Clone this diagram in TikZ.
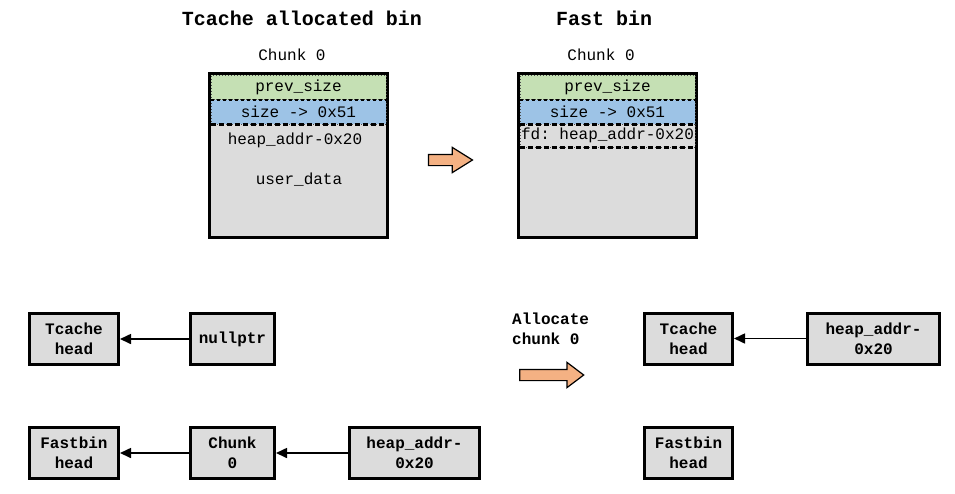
\documentclass[tikz,border=0pt]{standalone}
\usepackage{fontspec}
\setmonofont{Liberation Mono}
\usetikzlibrary{positioning, shapes.arrows, arrows.meta}
\definecolor{chunkgray}{HTML}{DCDCDC}
\definecolor{prevgreen}{HTML}{C5E0B4}
\definecolor{sizeblue}{HTML}{9DC3E6}
\definecolor{stepor}{HTML}{F4B183}
\newcommand\titlefnt{\ttfamily\bfseries\fontsize{20}{24}\selectfont}
\newcommand\fieldfnt{\ttfamily\fontsize{16}{20}\selectfont}
\newcommand\boxfnt{\ttfamily\bfseries\fontsize{16}{20}\selectfont}
\tikzstyle{title} = [inner sep=0pt, font=\titlefnt]
\tikzstyle{chunkname} = [inner sep=0pt, font=\fieldfnt]
\tikzstyle{chunk} = [draw, line width=3pt, fill=chunkgray, minimum width=178pt, minimum height=164pt, inner sep=0pt]
\tikzstyle{field} = [draw=black!70, dotted, line width=1pt, minimum width=175pt, minimum height=24.5pt, inner sep=0pt, font=\fieldfnt]
\tikzstyle{sep} = [dashed, line width=1.5pt]
\tikzstyle{septhick} = [dash pattern=on 5pt off 3pt, line width=2.2pt]
\tikzstyle{ptrbox} = [draw, line width=3pt, fill=chunkgray, minimum width=89pt, minimum height=51pt, inner sep=0pt, align=center, font=\boxfnt]
\tikzstyle{ptr} = [line width=1.6pt, -{Triangle[length=11pt,width=10pt]}]
\tikzstyle{fatarrow} = [single arrow, draw, fill=stepor, line width=1.2pt, inner xsep=0pt, inner ysep=5pt, single arrow head extend=7pt]

\begin{document}
\begin{tikzpicture}[x=1pt,y=-1pt]
  \useasboundingbox (0,0) rectangle (955,493);
  % titles
  \node (tcTitle) [title] at (302,18) {Tcache allocated bin};
  \node (fbTitle) [title] at (604,18) {Fast bin};
  \node (nameL) [chunkname] at (292,55) {Chunk 0};
  \node (nameR) [chunkname] at (601,55) {Chunk 0};
  % chunk before
  \node (chunkL) [chunk] at (298.5,155.5) {};
  \node (prevL) [field, fill=prevgreen] at (298.5,87.25) {prev\_size};
  \node (sizeL) [field, fill=sizeblue] at (298.5,111.75) {size -> 0x51};
  \draw [sep] (prevL.south west) -- (prevL.south east);
  \draw [septhick] (sizeL.south west) -- (sizeL.south east);
  \node (dataL) [chunkname] at (295,140) {heap\_addr-0x20};
  \node (userL) [chunkname] at (299,180) {user\_data};
  % chunk after
  \node (chunkR) [chunk] at (607.5,155.5) {};
  \node (prevR) [field, fill=prevgreen] at (607.5,87.25) {prev\_size};
  \node (sizeR) [field, fill=sizeblue] at (607.5,111.75) {size -> 0x51};
  \node (fdR) [field, fill=chunkgray, minimum height=23pt] at (607.5,135.5) {fd: heap\_addr-0x20};
  \draw [sep] (prevR.south west) -- (prevR.south east);
  \draw [septhick] (sizeR.south west) -- (sizeR.south east);
  \draw [septhick] (fdR.south west) -- (fdR.south east);
  \node (stepTop) [fatarrow, minimum height=44pt, single arrow tip angle=64] at (446,160) {};
  % bins before
  \node (tcL) [ptrbox] at (74,339) {Tcache\\head};
  \node (nullL) [ptrbox, minimum width=84pt, right=69pt of tcL] {nullptr};
  \node (fbL) [ptrbox] at (74,453) {Fastbin\\head};
  \node (chL) [ptrbox, minimum width=84pt, right=69pt of fbL] {Chunk\\0};
  \node (heapL) [ptrbox, minimum width=130pt, right=72pt of chL] {heap\_addr-\\0x20};
  \draw [ptr] (nullL) -- (tcL);
  \draw [ptr] (chL) -- (fbL);
  \draw [ptr] (heapL) -- (chL);
  % allocate step
  \node (alloc) [anchor=west, inner sep=0pt, align=left, font=\boxfnt] at (512,329) {Allocate\\chunk 0};
  \node (stepBot) [fatarrow, minimum height=64pt, single arrow tip angle=74] at (548,375) {};
  % bins after
  \node (tcR) [ptrbox, minimum width=88pt] at (688.5,338.5) {Tcache\\head};
  \node (heapR) [ptrbox, minimum width=132pt, right=72pt of tcR] {heap\_addr-\\0x20};
  \node (fbR) [ptrbox, minimum width=88pt] at (688.5,453) {Fastbin\\head};
  \draw [ptr] (heapR) -- (tcR);
\end{tikzpicture}
\end{document}
